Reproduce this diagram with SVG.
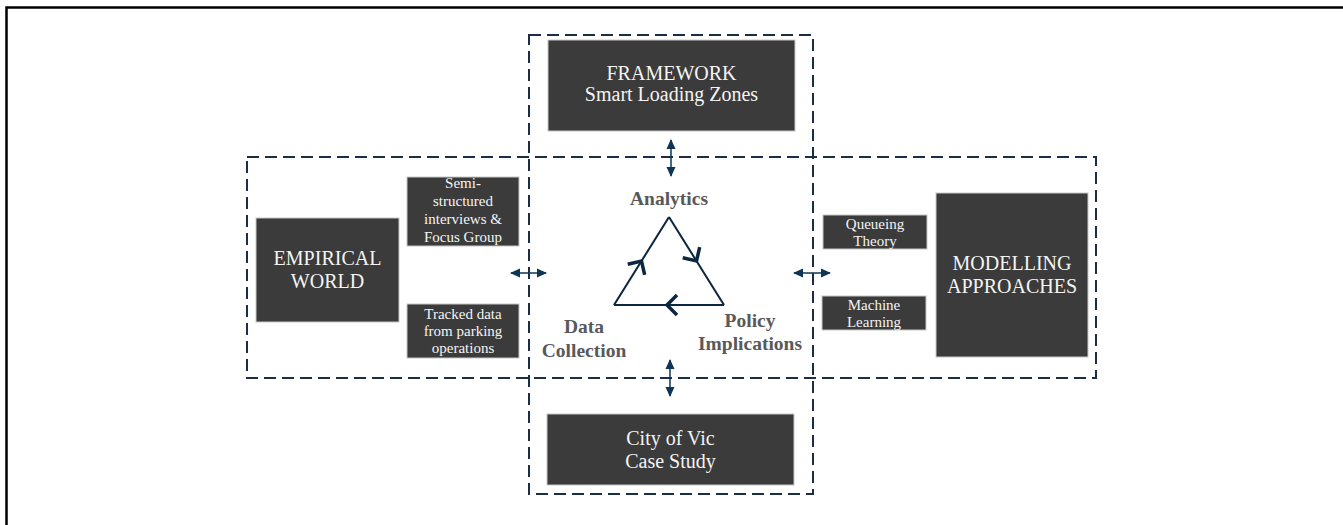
<svg xmlns="http://www.w3.org/2000/svg" width="1343" height="525" viewBox="0 0 1343 525">
<defs>
<style>
.frame{fill:none;stroke:#000;stroke-width:2.5}
.dash{fill:none;stroke:#1c2e45;stroke-width:2;stroke-dasharray:12 6}
.box{fill:#3b3b3b;stroke:#c8c8c8;stroke-width:1}
.lbl{fill:#f4f4f4;text-anchor:middle}
.big{font-size:20px}
.small{font-size:15px}
.phase{font-weight:bold;font-size:19.5px;fill:#595959;text-anchor:middle}
.conn{fill:none;stroke:#0e3556;stroke-width:1.5}
.tri{fill:none;stroke:#0d2740;stroke-width:2}
</style>
<marker id="ah" viewBox="0 0 10 10" refX="9" refY="5" markerWidth="10" markerHeight="10" markerUnits="userSpaceOnUse" orient="auto-start-reverse">
<path d="M0,0.5 L10,5 L0,9.5 z" fill="#0e3556"/>
</marker>
<marker id="chev" viewBox="-14 -14 28 28" refX="0" refY="0" markerWidth="28" markerHeight="28" markerUnits="userSpaceOnUse" orient="auto">
<path d="M-10,-10 L0,0 L-10,10" fill="none" stroke="#0d2740" stroke-width="3.5"/>
</marker>
</defs>
<rect width="1343" height="525" fill="#fff"/>
<path class="frame" d="M6.5,525 L6.5,7.5 L1343,7.5"/>

<g id="regions">
<rect class="dash" x="529" y="35" width="284" height="459"/>
<rect class="dash" x="247" y="157" width="849" height="221"/>
</g>

<g font-family="'Liberation Serif', Tinos, 'Times New Roman', 'DejaVu Serif', serif">
<g id="framework">
<rect class="box" x="548" y="40" width="247" height="91"/>
<text class="lbl big" x="671.5" y="80">FRAMEWORK</text>
<text class="lbl big" x="671.5" y="101">Smart Loading Zones</text>
</g>

<g id="case-study">
<rect class="box" x="547" y="414" width="247" height="71"/>
<text class="lbl big" x="670.5" y="445">City of Vic</text>
<text class="lbl big" x="670.5" y="468">Case Study</text>
</g>

<g id="empirical-world">
<rect class="box" x="256" y="218" width="143" height="104"/>
<text class="lbl big" x="327.5" y="265">EMPIRICAL</text>
<text class="lbl big" x="327.5" y="288">WORLD</text>
</g>

<g id="interviews">
<rect class="box" x="407" y="177" width="112" height="69"/>
<text class="lbl small" x="463" y="188">Semi-</text>
<text class="lbl small" x="463" y="206">structured</text>
<text class="lbl small" x="463" y="224">interviews &amp;</text>
<text class="lbl small" x="463" y="242">Focus Group</text>
</g>

<g id="tracked-data">
<rect class="box" x="407" y="304" width="112" height="54"/>
<text class="lbl small" x="463" y="319">Tracked data</text>
<text class="lbl small" x="463" y="336">from parking</text>
<text class="lbl small" x="463" y="353">operations</text>
</g>

<g id="queueing">
<rect class="box" x="823" y="215" width="104" height="34"/>
<text class="lbl small" x="875" y="229">Queueing</text>
<text class="lbl small" x="875" y="246">Theory</text>
</g>

<g id="machine-learning">
<rect class="box" x="822" y="296" width="104" height="34"/>
<text class="lbl small" x="874" y="310">Machine</text>
<text class="lbl small" x="874" y="327">Learning</text>
</g>

<g id="modelling">
<rect class="box" x="936" y="193" width="152" height="164"/>
<text class="lbl big" x="1012" y="270">MODELLING</text>
<text class="lbl big" x="1012" y="293">APPROACHES</text>
</g>

<g id="cycle">
<path class="tri" d="M614,305 L641.5,261 L669,217" marker-mid="url(#chev)"/>
<path class="tri" d="M669,217 L696.5,261 L724,305" marker-mid="url(#chev)"/>
<path class="tri" d="M724,305 L667,305 L614,305" marker-mid="url(#chev)"/>
<text class="phase" x="669" y="205">Analytics</text>
<text class="phase" x="584" y="333">Data</text>
<text class="phase" x="584" y="357">Collection</text>
<text class="phase" x="750" y="327">Policy</text>
<text class="phase" x="750" y="350">Implications</text>
</g>
</g>

<g id="connectors">
<path class="conn" d="M511,273 L546,273" marker-start="url(#ah)" marker-end="url(#ah)"/>
<path class="conn" d="M794,273 L830,273" marker-start="url(#ah)" marker-end="url(#ah)"/>
<path class="conn" d="M671,140 L671,176" marker-start="url(#ah)" marker-end="url(#ah)"/>
<path class="conn" d="M670,360 L670,396" marker-start="url(#ah)" marker-end="url(#ah)"/>
</g>
</svg>
